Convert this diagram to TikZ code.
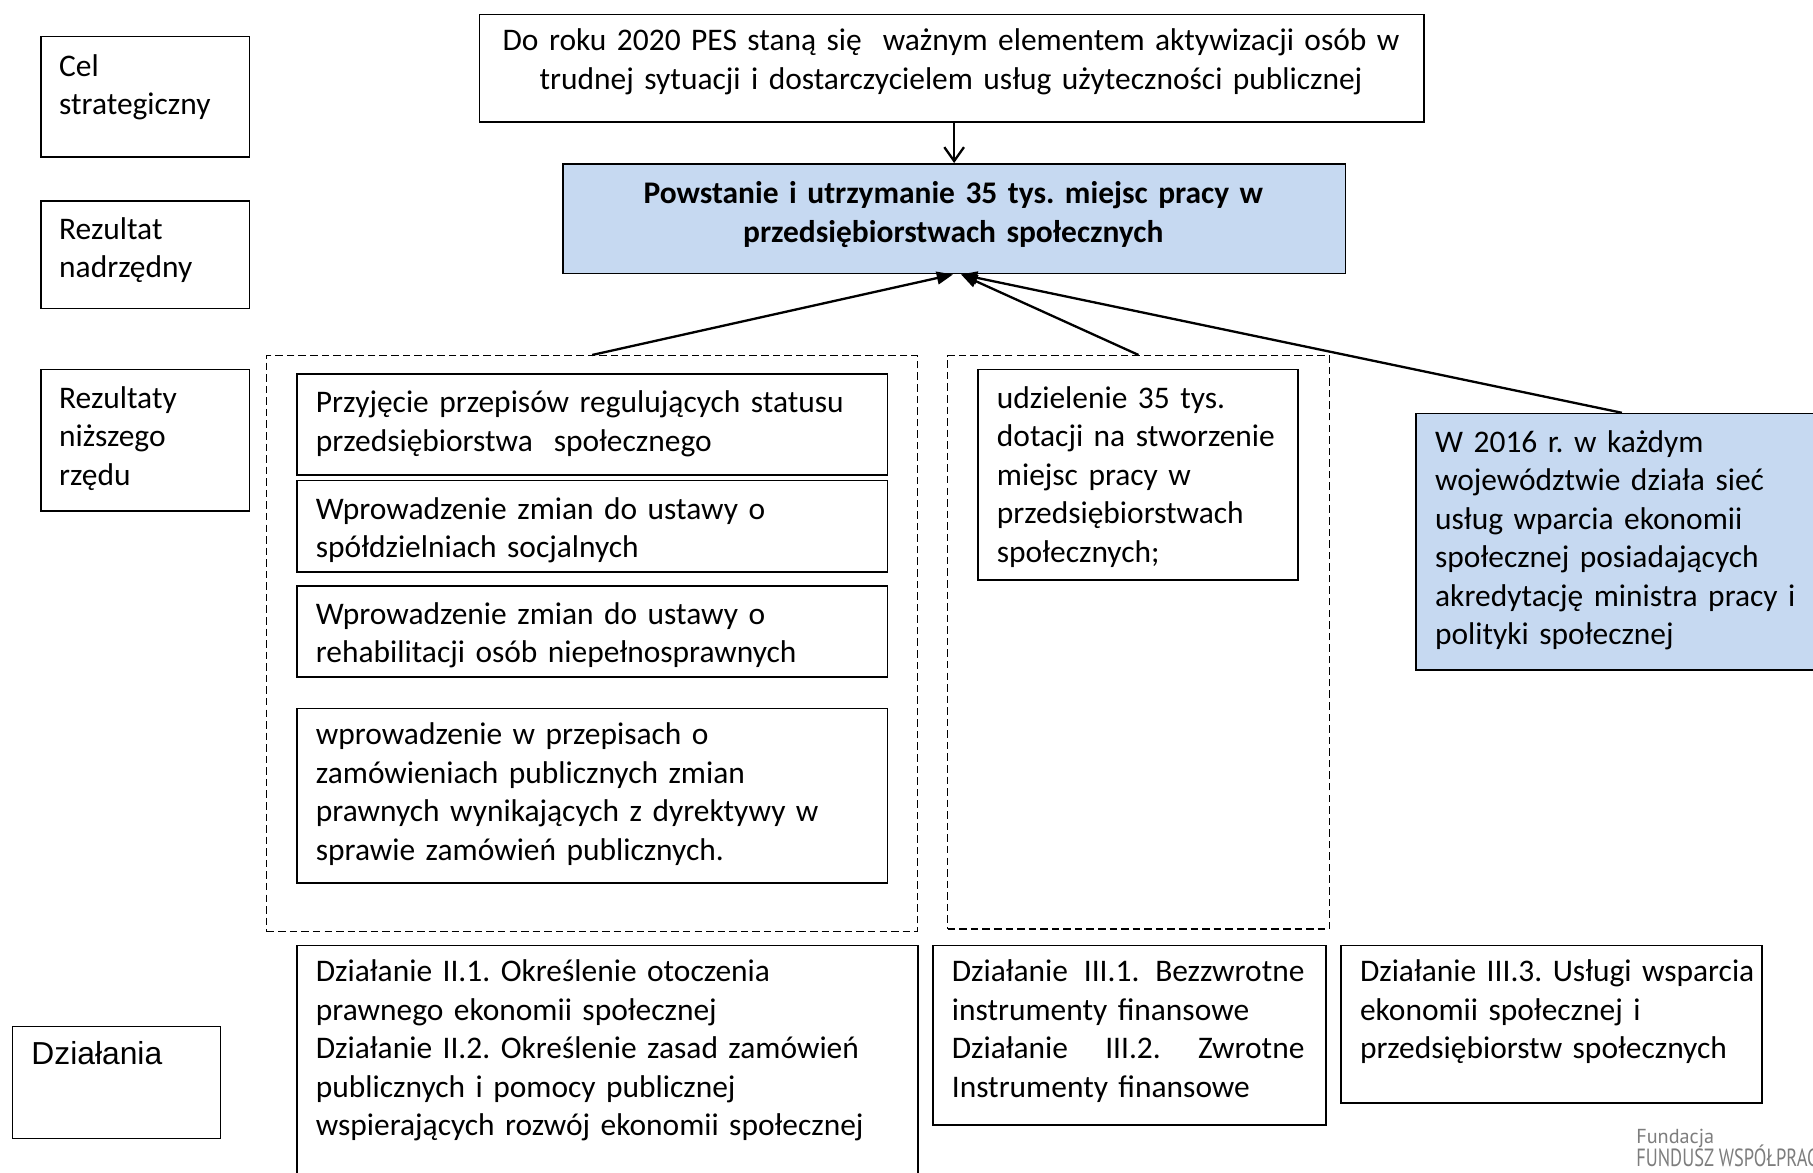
\documentclass[tikz,border=0pt]{standalone}
\usepackage{fontspec}
\setmainfont{Carlito}
\newfontfamily\arialfont{Liberation Sans}
\newfontfamily\logofont{PT Sans}
\newfontfamily\logocond[FakeStretch=0.74]{PT Sans}
\usetikzlibrary{arrows.meta}
\definecolor{paleblue}{RGB}{198,217,241}
\definecolor{logogray}{RGB}{125,125,125}
\newcommand\bodyfs{\fontsize{27.2}{33.3}\selectfont}
\frenchspacing
\begin{document}
\frenchspacing
\begin{tikzpicture}[x=1pt,y=-1pt,
  box/.style={draw=black, line width=1.4pt, anchor=north west, inner sep=0pt},
  bluebox/.style={box, fill=paleblue},
  dbox/.style={draw=black, line width=1.3pt, dash pattern=on 6.5pt off 3.5pt, anchor=north west, inner sep=0pt},
  txt/.style={font=\bodyfs\frenchspacing, align=left, inner sep=0pt, anchor=base west, text width=#1},
  ctxt/.style={font=\bodyfs\frenchspacing, align=center, inner sep=0pt, anchor=base, text width=#1},
  conn/.style={line width=2pt, -{Triangle[length=14pt,width=11pt]}},
]
\useasboundingbox (0,0) rectangle (1568,1014);
\clip (0,0) rectangle (1568,1014);
\fill[white] (0,0) rectangle (1568,1014);

% left labels
\node[box, minimum width=180pt, minimum height=104pt] (cel) at (35,31) {};
\node[txt=160pt] (celt) at (51,66) {Cel\\strategiczny};
\node[box, minimum width=180pt, minimum height=93pt] (rn) at (35,173) {};
\node[txt=160pt] (rnt) at (51,207) {Rezultat\\nadrzędny};
\node[box, minimum width=180pt, minimum height=122pt] (rr) at (35,319) {};
\node[txt=160pt] (rrt) at (51,353) {Rezultaty\\niższego\\rzędu};
\node[box, minimum width=180pt, minimum height=97pt] (dz) at (10,887) {};
\node[font=\arialfont\fontsize{27.5}{33}\selectfont, inner sep=0pt, anchor=base west] (dzt) at (27,921) {Działania};

% top goal
\node[box, minimum width=817pt, minimum height=93pt] (top) at (414,12) {};
\node[ctxt=800pt] (topt) at (822.5,44) {Do roku 2020 PES staną się\ \ ważnym elementem aktywizacji osób w\\trudnej sytuacji i dostarczycielem usług użyteczności publicznej};

% main result
\node[bluebox, minimum width=677pt, minimum height=95pt] (blue) at (486,141) {};
\node[ctxt=660pt, font=\bodyfs\bfseries] (bluet) at (824.5,176) {Powstanie i utrzymanie 35 tys. miejsc pracy w\\przedsiębiorstwach społecznych};

% dashed groups
\node[dbox, minimum width=563pt, minimum height=498pt] (d1) at (230,307) {};
\node[dbox, minimum width=330pt, minimum height=496pt] (d2) at (819,307) {};

% lower results, group 1
\node[box, minimum width=511pt, minimum height=87pt] (ra) at (256,323) {};
\node[txt=490pt] (rat) at (273,357) {Przyjęcie przepisów regulujących statusu\\przedsiębiorstwa\ \ społecznego};
\node[box, minimum width=511pt, minimum height=79pt] (rb2) at (256,415) {};
\node[txt=490pt] (rbt) at (273,449) {Wprowadzenie zmian do ustawy o\\spółdzielniach socjalnych};
\node[box, minimum width=511pt, minimum height=79pt] (rc) at (256,506) {};
\node[txt=490pt] (rct) at (273,540) {Wprowadzenie zmian do ustawy o\\rehabilitacji osób niepełnosprawnych};
\node[box, minimum width=511pt, minimum height=151pt] (rd) at (256,612) {};
\node[txt=490pt] (rdt) at (273,644) {wprowadzenie w przepisach o\\zamówieniach publicznych zmian\\prawnych wynikających z dyrektywy w\\sprawie zamówień publicznych.};

% lower results, group 2
\node[box, minimum width=277pt, minimum height=182pt] (re) at (845,319) {};
\node[txt=255pt] (ret) at (862,353) {udzielenie 35 tys.\\dotacji na stworzenie\\miejsc pracy w\\przedsiębiorstwach\\społecznych;};

% lower result, right
\node[bluebox, minimum width=356pt, minimum height=222pt] (rs) at (1224,357) {};
\node[txt=330pt] (rst) at (1241,391) {W 2016 r. w każdym\\województwie działa sieć\\usług wparcia ekonomii\\społecznej posiadających\\akredytację ministra pracy i\\polityki społecznej};

% actions
\node[box, minimum width=537pt, minimum height=215pt] (ae) at (256,817) {};
\node[txt=515pt] (aet) at (273,849) {Działanie II.1. Określenie otoczenia\\prawnego ekonomii społecznej\\Działanie II.2. Określenie zasad zamówień\\publicznych i pomocy publicznej\\wspierających rozwój ekonomii społecznej};
\node[box, minimum width=340pt, minimum height=155pt] (af) at (806,817) {};
\node[txt=305pt] (aft) at (823,849) {Działanie\hfill III.1.\hfill Bezzwrotne\\instrumenty finansowe\\Działanie\hfill III.2.\hfill Zwrotne\\Instrumenty finansowe};
\node[box, minimum width=364pt, minimum height=136pt] (ag) at (1159,817) {};
\node[txt=360pt] (agt) at (1176,849) {Działanie III.3. Usługi wsparcia\\ekonomii społecznej i\\przedsiębiorstw społecznych};

% connectors
\draw[line width=2pt, -{Straight Barb[length=12pt,width=17pt]}] (blue.north |- top.south) -- (blue.north);
\draw[conn] (d1.north) -- ([xshift=-1pt]blue.south);
\draw[conn] (d2.north) -- ([xshift=6pt]blue.south);
\draw[conn] (rs.north) -- ([xshift=6pt]blue.south);

% logo
\node[font=\logofont\fontsize{17.5}{17.5}\selectfont, text=logogray, inner sep=0pt, anchor=base west] (fund) at (1415,988.8) {Fundacja};
\node[font=\logocond\fontsize{21.5}{21.5}\selectfont, text=logogray, inner sep=0pt, anchor=base west] (fws) at (1415,1009) {FUNDUSZ WSPÓŁPRACY};
\end{tikzpicture}
\end{document}
